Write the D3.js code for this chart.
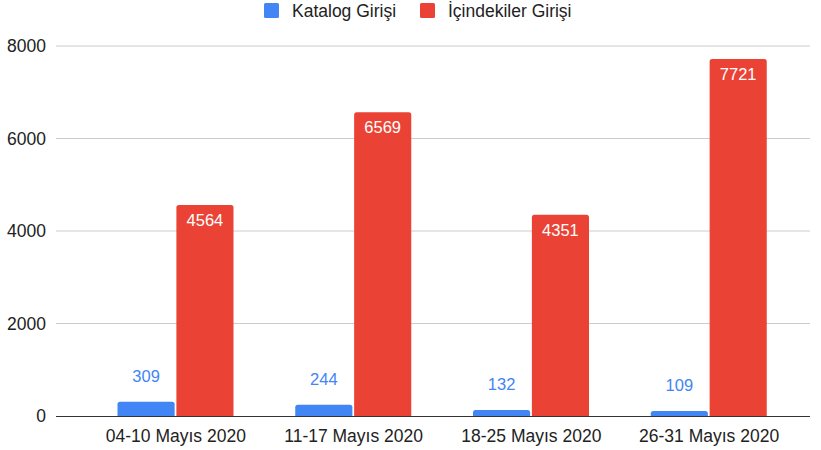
<!DOCTYPE html>
<html>
<head>
<meta charset="utf-8">
<script src="https://cdn.jsdelivr.net/npm/d3@7"></script>
<style>
  body { margin: 0; background: #fff; }
  text { font-family: Arial, "Liberation Sans", sans-serif; }
</style>
</head>
<body>
<svg></svg>
<script>
const categories = ['04-10 Mayıs 2020', '11-17 Mayıs 2020', '18-25 Mayıs 2020', '26-31 Mayıs 2020'];
const seriesNames = ['Katalog Girişi', 'İçindekiler Girişi'];
const katalog = [309, 244, 132, 109];
const icindekiler = [4564, 6569, 4351, 7721];
const yTicks = [0, 2000, 4000, 6000, 8000];
const colors = ['#4285F4', '#EA4335'];

const width = 821;
const height = 450;

const svg = d3.select('svg')
  .attr('width', width)
  .attr('height', height);

const x = d3.scaleBand()
  .domain(categories)
  .range([87, 798]);

const xInner = d3.scaleBand()
  .domain(seriesNames)
  .range([30.5, 146.5])
  .paddingInner(0.03);

const y = d3.scaleLinear()
  .domain([0, 8000])
  .range([416, 46]);

// gridlines
svg.append('g')
  .selectAll('line')
  .data(yTicks.filter(d => d > 0))
  .enter()
  .append('line')
  .attr('x1', 56)
  .attr('x2', 810)
  .attr('y1', d => y(d))
  .attr('y2', d => y(d))
  .attr('stroke', '#cccccc')
  .attr('stroke-width', 1);

// y tick labels
svg.append('g')
  .selectAll('text')
  .data(yTicks)
  .enter()
  .append('text')
  .attr('x', 46)
  .attr('y', d => y(d) + 6)
  .attr('text-anchor', 'end')
  .attr('font-size', 17.5)
  .attr('fill', '#222')
  .text(d => d);

const rows = categories.map((c, i) => ({
  category: c,
  values: [katalog[i], icindekiler[i]]
}));

const groups = svg.append('g')
  .selectAll('g')
  .data(rows)
  .enter()
  .append('g')
  .attr('transform', d => `translate(${x(d.category)},0)`);

function topRounded(x0, y0, w, h, r) {
  r = Math.min(r, h);
  return `M${x0},${y0 + h}V${y0 + r}Q${x0},${y0} ${x0 + r},${y0}H${x0 + w - r}Q${x0 + w},${y0} ${x0 + w},${y0 + r}V${y0 + h}Z`;
}

groups.selectAll('path')
  .data(d => d.values.map((v, i) => ({ v, i })))
  .enter()
  .append('path')
  .attr('fill', d => colors[d.i])
  .attr('d', d => topRounded(xInner(seriesNames[d.i]), y(d.v), xInner.bandwidth(), y(0) - y(d.v), 2.5));

// value labels
groups.selectAll('text.val')
  .data(d => d.values.map((v, i) => ({ v, i })))
  .enter()
  .append('text')
  .classed('val', true)
  .attr('x', d => xInner(seriesNames[d.i]) + xInner.bandwidth() / 2)
  .attr('y', d => d.i === 0 ? y(d.v) - 20 : y(d.v) + 21)
  .attr('text-anchor', 'middle')
  .attr('font-size', 16.5)
  .attr('font-family', 'Roboto, sans-serif')
  .attr('font-weight', d => d.i === 1 ? 500 : 400)
  .attr('fill', d => d.i === 0 ? colors[0] : '#ffffff')
  .text(d => d.v);

// baseline
svg.append('line')
  .attr('x1', 56)
  .attr('x2', 810)
  .attr('y1', y(0) + 0.5)
  .attr('y2', y(0) + 0.5)
  .attr('stroke', '#333')
  .attr('stroke-width', 1.2);

// x labels
svg.append('g')
  .selectAll('text')
  .data(categories)
  .enter()
  .append('text')
  .attr('x', d => x(d) + x.bandwidth() / 2)
  .attr('y', 442)
  .attr('text-anchor', 'middle')
  .attr('font-size', 17.5)
  .attr('fill', '#222')
  .text(d => d);

// legend
const legendX = [264, 420];
const legend = svg.append('g')
  .selectAll('g')
  .data(seriesNames)
  .enter()
  .append('g')
  .attr('transform', (d, i) => `translate(${legendX[i]},3)`);

legend.append('rect')
  .attr('width', 15)
  .attr('height', 15)
  .attr('rx', 1.5)
  .attr('fill', (d, i) => colors[i]);

legend.append('text')
  .attr('x', 28)
  .attr('y', 14)
  .attr('font-size', 17.5)
  .attr('fill', '#222')
  .text(d => d);
</script>
</body>
</html>
